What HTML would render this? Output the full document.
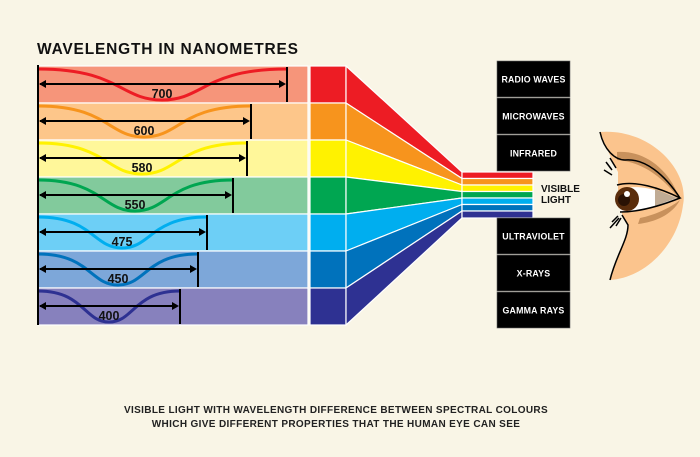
<!DOCTYPE html>
<html><head><style>
body{margin:0;background:#f9f5e6;}
svg{display:block;}
text{font-family:"Liberation Sans",sans-serif;font-weight:bold;}
</style></head><body>
<svg width="700" height="457" viewBox="0 0 700 457" xmlns="http://www.w3.org/2000/svg">
<rect width="700" height="457" fill="#f9f5e6"/>
<text x="37" y="54" font-size="15.5" fill="#111" letter-spacing="0.8">WAVELENGTH IN NANOMETRES</text>
<g stroke="#fff" stroke-width="1.2">
<rect x="38" y="66" width="270" height="37" fill="#f6957a"/>
<rect x="38" y="103" width="270" height="37" fill="#fdc68a"/>
<rect x="38" y="140" width="270" height="37" fill="#fff79a"/>
<rect x="38" y="177" width="270" height="37" fill="#82ca9c"/>
<rect x="38" y="214" width="270" height="37" fill="#6dcff6"/>
<rect x="38" y="251" width="270" height="37" fill="#7da7d9"/>
<rect x="38" y="288" width="270" height="37" fill="#8781bd"/>
<rect x="310" y="66" width="36" height="37" fill="#ed1c24"/>
<rect x="310" y="103" width="36" height="37" fill="#f7941d"/>
<rect x="310" y="140" width="36" height="37" fill="#fff200"/>
<rect x="310" y="177" width="36" height="37" fill="#00a651"/>
<rect x="310" y="214" width="36" height="37" fill="#00aeef"/>
<rect x="310" y="251" width="36" height="37" fill="#0072bc"/>
<rect x="310" y="288" width="36" height="37" fill="#2e3192"/>
<polygon points="346,66 462,172 462,178.5 346,103" fill="#ed1c24"/>
<polygon points="346,103 462,178.5 462,185 346,140" fill="#f7941d"/>
<polygon points="346,140 462,185 462,191.5 346,177" fill="#fff200"/>
<polygon points="346,177 462,191.5 462,198 346,214" fill="#00a651"/>
<polygon points="346,214 462,198 462,204.5 346,251" fill="#00aeef"/>
<polygon points="346,251 462,204.5 462,211 346,288" fill="#0072bc"/>
<polygon points="346,288 462,211 462,218 346,325" fill="#2e3192"/>
<rect x="462" y="172" width="71" height="6.5" fill="#ed1c24"/>
<rect x="462" y="178.5" width="71" height="6.5" fill="#f7941d"/>
<rect x="462" y="185" width="71" height="6.5" fill="#fff200"/>
<rect x="462" y="191.5" width="71" height="6.5" fill="#00a651"/>
<rect x="462" y="198" width="71" height="6.5" fill="#00aeef"/>
<rect x="462" y="204.5" width="71" height="6.5" fill="#0072bc"/>
<rect x="462" y="211" width="71" height="7" fill="#2e3192"/>
</g>
<g fill="none" stroke-width="3">
<path d="M38,69 C120,69 120,100 162,100 C204,100 204,69 287,69" stroke="#ed1c24"/>
<path d="M38,106 C108,106 108,137 144,137 C180,137 180,106 251,106" stroke="#f7941d"/>
<path d="M38,143 C106,143 106,174 142,174 C178,174 178,143 247,143" stroke="#fff200"/>
<path d="M38,180 C102,180 102,211 135,211 C168,211 168,180 233,180" stroke="#00a651"/>
<path d="M38,217 C93,217 93,248 122,248 C151,248 151,217 207,217" stroke="#00aeef"/>
<path d="M38,254 C90,254 90,285 118,285 C146,285 146,254 198,254" stroke="#0072bc"/>
<path d="M38,291 C84,291 84,322 109,322 C134,322 134,291 180,291" stroke="#2e3192"/>
</g>
<g stroke="#000" stroke-width="2" fill="none">
<line x1="38" y1="65" x2="38" y2="325"/>
<line x1="287" y1="67" x2="287" y2="102"/><line x1="40" y1="84" x2="284" y2="84"/>
<line x1="251" y1="104" x2="251" y2="139"/><line x1="40" y1="121" x2="248" y2="121"/>
<line x1="247" y1="141" x2="247" y2="176"/><line x1="40" y1="158" x2="244" y2="158"/>
<line x1="233" y1="178" x2="233" y2="213"/><line x1="40" y1="195" x2="230" y2="195"/>
<line x1="207" y1="215" x2="207" y2="250"/><line x1="40" y1="232" x2="204" y2="232"/>
<line x1="198" y1="252" x2="198" y2="287"/><line x1="40" y1="269" x2="195" y2="269"/>
<line x1="180" y1="289" x2="180" y2="324"/><line x1="40" y1="306" x2="177" y2="306"/>
</g>
<g fill="#000">
<polygon points="39,84 46,80 46,88"/><polygon points="286,84 279,80 279,88"/>
<polygon points="39,121 46,117 46,125"/><polygon points="250,121 243,117 243,125"/>
<polygon points="39,158 46,154 46,162"/><polygon points="246,158 239,154 239,162"/>
<polygon points="39,195 46,191 46,199"/><polygon points="232,195 225,191 225,199"/>
<polygon points="39,232 46,228 46,236"/><polygon points="206,232 199,228 199,236"/>
<polygon points="39,269 46,265 46,273"/><polygon points="197,269 190,265 190,273"/>
<polygon points="39,306 46,302 46,310"/><polygon points="179,306 172,302 172,310"/>
</g>
<g font-size="12.5" fill="#111" text-anchor="middle">
<text x="162" y="98">700</text>
<text x="144" y="135">600</text>
<text x="142" y="172">580</text>
<text x="135" y="209">550</text>
<text x="122" y="246">475</text>
<text x="118" y="283">450</text>
<text x="109" y="320">400</text>
</g>
<g fill="#000" stroke="#666" stroke-width="0.6">
<rect x="497" y="61" width="73" height="36"/>
<rect x="497" y="98" width="73" height="36"/>
<rect x="497" y="135" width="73" height="36"/>
<rect x="497" y="218" width="73" height="36"/>
<rect x="497" y="255" width="73" height="36"/>
<rect x="497" y="292" width="73" height="36"/>
</g>
<g font-size="8.8" fill="#fff" text-anchor="middle" letter-spacing="0.2">
<text x="533.5" y="82.5">RADIO WAVES</text>
<text x="533.5" y="119.5">MICROWAVES</text>
<text x="533.5" y="156.5">INFRARED</text>
<text x="533.5" y="239.5">ULTRAVIOLET</text>
<text x="533.5" y="276.5">X-RAYS</text>
<text x="533.5" y="313.5">GAMMA RAYS</text>
</g>
<text x="541" y="192" font-size="10" fill="#111">VISIBLE</text>
<text x="541" y="203" font-size="10" fill="#111">LIGHT</text>
<path d="M600,132 C650,128 690,170 683,205 C678,245 645,278 610,280 C616,255 628,240 628,225 L622,214 L618,197 L618,172 C612,160 605,145 600,132 Z" fill="#fbc48d"/>
<path d="M617,152 C645,150 670,170 680,200 C665,180 645,162 617,160 Z" fill="#c8915c"/>
<path d="M640,218 C655,215 670,208 680,200 C672,215 655,222 638,224 Z" fill="#c8915c"/>
<path d="M620,190 C635,183 660,190 677,198 C660,208 635,212 620,212 Z" fill="#fff"/>
<path d="M655,189 L677,198 L655,206 Z" fill="#c0ab94"/>
<circle cx="627" cy="199" r="12" fill="#5a2d0c"/>
<circle cx="624" cy="200" r="6" fill="#2a1204"/>
<circle cx="627" cy="194" r="3" fill="#fff"/>
<g fill="none" stroke="#000" stroke-width="1.5">
<path d="M600,132 C604,150 615,160 625,160 C645,158 665,175 680,198"/>
<path d="M617,185 C635,180 660,188 680,198 C660,206 640,212 620,212"/>
<path d="M622,215 L628,225 C628,240 616,255 610,280"/>
<path d="M606,162 L612,170 M604,170 L612,175 M610,158 L616,168"/>
<path d="M612,222 L618,216 M610,228 L619,218 M616,226 L621,218"/>
</g>
<g font-size="10" fill="#222" text-anchor="middle" letter-spacing="0.35">
<text x="336" y="413">VISIBLE LIGHT WITH WAVELENGTH DIFFERENCE BETWEEN SPECTRAL COLOURS</text>
<text x="336" y="427">WHICH GIVE DIFFERENT PROPERTIES THAT THE HUMAN EYE CAN SEE</text>
</g>
</svg>
</body></html>
